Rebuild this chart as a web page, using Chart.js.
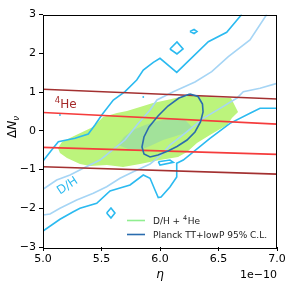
<!DOCTYPE html>
<html><head><meta charset="utf-8">
<script src="https://cdn.jsdelivr.net/npm/chart.js@4/dist/chart.umd.min.js"></script>
<style>html,body{margin:0;padding:0;background:#fff}canvas{display:block}</style>
</head><body><canvas id="c" width="291" height="291"></canvas>
<script>
// eta values are in units of 1e-10
const xTickValues = [5.0, 5.5, 6.0, 6.5, 7.0];
const yTickValues = [-3, -2, -1, 0, 1, 2, 3];

// 4He constraint lines (95% outer, 68% inner)
const heEta  = [5.0, 7.0];
const he95Up = [1.07, 0.82];
const he68Up = [0.47, 0.17];
const he68Lo = [-0.43, -0.61];
const he95Lo = [-0.93, -1.12];

// Planck TT+lowP 95% C.L. contour
const planckEta = [6.256,6.325,6.363,6.368,6.346,6.299,6.231,6.145,6.068,5.983,5.915,5.863,5.846,5.863,5.906,5.983,6.068,6.162,6.256];
const planckDN  = [0.948,0.884,0.690,0.484,0.226,-0.032,-0.239,-0.406,-0.523,-0.626,-0.677,-0.600,-0.419,-0.161,0.097,0.381,0.639,0.845,0.948];

// D/H + 4He combined regions
const comb95Eta = [5.128,5.162,5.265,5.427,5.513,5.632,5.718,5.829,5.940,6.060,6.171,6.299,6.427,6.607,6.667,6.615,6.573,6.427,6.316,6.231,6.154,6.000,5.829,5.684,5.547,5.402,5.316,5.205,5.145];
const comb95DN  = [-0.445,-0.290,-0.135,0.097,0.355,0.458,0.510,0.613,0.716,0.794,0.871,0.923,0.871,0.845,0.484,0.329,0.148,-0.110,-0.316,-0.548,-0.677,-0.755,-0.858,-0.935,-0.884,-0.910,-0.858,-0.703,-0.574];
const comb68Eta = [5.641,5.692,5.769,5.872,5.983,6.103,6.214,6.274,6.214,6.137,6.026,5.915,5.829,5.726];
const comb68DN  = [-0.368,-0.161,0.019,0.148,0.252,0.329,0.277,0.097,-0.058,-0.135,-0.239,-0.394,-0.497,-0.471];

// D/H contours: 95% (bright) and 68% (pale)
const dh95UpEta = [5.000,5.074,5.131,5.274,5.387,5.444,5.502,5.601,5.701,5.801,5.857,5.943,6.000,6.143,6.413,6.570,6.698];
const dh95UpDN  = [-0.781,-0.497,-0.283,-0.195,-0.084,0.148,0.406,0.794,1.008,1.310,1.568,1.766,1.870,1.508,2.298,2.541,3.0];
const dh95LoEta = [5.000,5.145,5.259,5.316,5.459,5.573,5.658,5.744,5.857,5.915,5.957,5.985,6.009,6.085,6.143,6.143,6.199,6.427,6.598,6.769,6.855,7.000];
const dh95LoDN  = [-2.587,-2.285,-2.089,-2.001,-1.872,-1.555,-1.477,-1.400,-1.142,-1.227,-1.529,-1.723,-1.710,-1.452,-1.194,-0.840,-0.755,-0.195,0.192,0.450,0.579,0.579];
const dh68UpEta = [5.000,5.117,5.231,5.344,5.487,5.630,5.701,5.803,5.915,5.974,6.114,6.299,6.442,6.584,6.769,6.912];
const dh68UpDN  = [-1.511,-1.271,-1.142,-0.969,-0.755,-0.412,-0.239,0.148,0.535,0.794,1.008,1.258,1.524,1.911,2.342,3.0];
const dh68LoEta = [5.000,5.060,5.145,5.288,5.430,5.544,5.658,5.772,5.915,6.000,6.085,6.228,6.370,6.513,6.658,6.712,6.855,7.000];
const dh68LoDN  = [-2.174,-2.148,-2.001,-1.787,-1.614,-1.444,-1.227,-1.057,-0.858,-0.652,-0.368,-0.032,0.321,0.579,0.845,1.008,1.095,1.224];

// small closed D/H islands
const islandAEta = [6.085,6.145,6.197,6.145,6.085];
const islandADN  = [2.110,2.290,2.110,1.981,2.110];
const islandBEta = [6.256,6.291,6.316,6.291,6.256];
const islandBDN  = [2.561,2.613,2.561,2.510,2.561];
const islandCEta = [5.544,5.581,5.615,5.581,5.544];
const islandCDN  = [-2.123,-1.994,-2.123,-2.252,-2.123];
const islandDEta = [5.986,6.085,6.114,6.000,5.986];
const islandDDN  = [-0.798,-0.755,-0.815,-0.884,-0.798];
const dotsEta = [5.145, 5.857];
const dotsDN  = [0.406, 0.871];

const pts = (xs, ys) => xs.map((x, i) => ({x: x, y: ys[i]}));

const C_CYAN = '#2bbaf0', C_PALE = '#a6d5f5', C_DRED = '#a33030', C_RED = '#f53c3c';
const C_PLANCK = '#2a6cae', C_G95 = '#bcf47c', C_G68 = '#a2e29a';

function line(data, color, w, extra) {
  return Object.assign({data: data, showLine: true, borderColor: color, backgroundColor: color,
    borderWidth: w, pointRadius: 0, tension: 0, fill: false}, extra || {});
}

const datasets = [
  line(pts(planckEta, planckDN), C_PLANCK, 1.6),
  line(pts(heEta, he95Up), C_DRED, 1.6),
  line(pts(heEta, he68Up), C_RED, 1.6),
  line(pts(heEta, he68Lo), C_RED, 1.6),
  line(pts(heEta, he95Lo), C_DRED, 1.6),
  line(pts(dh95UpEta, dh95UpDN), C_CYAN, 1.6),
  line(pts(dh95LoEta, dh95LoDN), C_CYAN, 1.6),
  line(pts(islandAEta, islandADN), C_CYAN, 1.6),
  line(pts(islandBEta, islandBDN), C_CYAN, 1.6),
  line(pts(islandCEta, islandCDN), C_CYAN, 1.6),
  line(pts(islandDEta, islandDDN), C_CYAN, 1.6),
  {data: pts(dotsEta, dotsDN), showLine: false, pointRadius: 0.9, pointBorderWidth: 0, backgroundColor: C_CYAN, borderColor: C_CYAN},
  line(pts(dh68UpEta, dh68UpDN), C_PALE, 1.6),
  line(pts(dh68LoEta, dh68LoDN), C_PALE, 1.6),
  line(pts(comb68Eta, comb68DN), C_G68, 0, {fill: 'shape', backgroundColor: C_G68}),
  line(pts(comb95Eta, comb95DN), C_G95, 0, {fill: 'shape', backgroundColor: C_G95})
];

const FONT = '"DejaVu Sans", sans-serif';

const decor = {
  id: 'decor',
  afterDatasetsDraw(chart) {
    const ctx = chart.ctx, a = chart.chartArea, xs = chart.scales.x, ys = chart.scales.y;
    ctx.save();
    // frame
    ctx.strokeStyle = '#000'; ctx.lineWidth = 1;
    ctx.strokeRect(Math.round(a.left) + 0.5, Math.round(a.top) + 0.5,
      Math.round(a.right - a.left) - 1, Math.round(a.bottom - a.top));
    // 4He label
    let px = xs.getPixelForValue(5.1), py = ys.getPixelForValue(0.6);
    ctx.fillStyle = '#a52a2a'; ctx.textBaseline = 'alphabetic'; ctx.textAlign = 'left';
    ctx.font = '8.5px ' + FONT; ctx.fillText('4', px, py - 5);
    ctx.font = '12px ' + FONT; ctx.fillText('He', px + 5.5, py);
    // D/H label
    px = xs.getPixelForValue(5.21); py = ys.getPixelForValue(-1.43);
    ctx.save(); ctx.translate(px, py); ctx.rotate(-33 * Math.PI / 180);
    ctx.fillStyle = C_CYAN; ctx.font = '12px ' + FONT; ctx.textAlign = 'center'; ctx.textBaseline = 'middle';
    ctx.fillText('D/H', 0, 0); ctx.restore();
    // legend
    ctx.lineWidth = 1.6;
    ctx.strokeStyle = '#90ee90'; ctx.beginPath(); ctx.moveTo(127, 220.5); ctx.lineTo(145, 220.5); ctx.stroke();
    ctx.strokeStyle = C_PLANCK; ctx.beginPath(); ctx.moveTo(127, 234.5); ctx.lineTo(145, 234.5); ctx.stroke();
    ctx.fillStyle = '#222'; ctx.textAlign = 'left'; ctx.textBaseline = 'alphabetic';
    ctx.font = '9px ' + FONT;
    ctx.fillText('D/H + ', 153, 224);
    let w = ctx.measureText('D/H + ').width;
    ctx.font = '6.5px ' + FONT; ctx.fillText('4', 153 + w, 220);
    let w2 = ctx.measureText('4').width;
    ctx.font = '9px ' + FONT; ctx.fillText('He', 153 + w + w2 + 0.5, 224);
    ctx.fillText('Planck TT+lowP 95% C.L.', 153, 238);
    // axis labels
    ctx.fillStyle = '#000';
    ctx.font = 'italic 12px ' + FONT; ctx.textAlign = 'center';
    ctx.fillText('\u03b7', (a.left + a.right) / 2, 278);
    ctx.font = '11px ' + FONT; ctx.textAlign = 'right';
    ctx.fillText('1e\u221210', a.right, 278);
    // y label
    ctx.save(); ctx.translate(16, 127); ctx.rotate(-Math.PI / 2);
    ctx.textAlign = 'left'; ctx.textBaseline = 'alphabetic';
    ctx.font = '12px ' + FONT; const wd = ctx.measureText('\u0394').width;
    ctx.font = 'italic 12px ' + FONT; const wn = ctx.measureText('N').width;
    ctx.font = 'italic 8.5px ' + FONT; const wv = ctx.measureText('\u03bd').width;
    const tot = wd + wn + wv; let x0 = -tot / 2;
    ctx.font = '12px ' + FONT; ctx.fillText('\u0394', x0, 0);
    ctx.font = 'italic 12px ' + FONT; ctx.fillText('N', x0 + wd, 0);
    ctx.font = 'italic 8.5px ' + FONT; ctx.fillText('\u03bd', x0 + wd + wn, 2.5);
    ctx.restore();
    ctx.restore();
  }
};

new Chart(document.getElementById('c'), {
  type: 'scatter',
  data: {datasets: datasets},
  options: {
    responsive: false, animation: false, devicePixelRatio: 1,
    layout: {padding: {left: 0, right: 14, top: 14.5, bottom: 0}},
    plugins: {legend: {display: false}, tooltip: {enabled: false}},
    scales: {
      x: {
        type: 'linear', min: 5, max: 7,
        afterBuildTicks: s => { s.ticks = xTickValues.map(v => ({value: v})); },
        afterFit: s => { s.height = 44; },
        border: {display: false},
        grid: {drawOnChartArea: false, drawTicks: true, tickLength: 4, color: '#000', lineWidth: 1},
        ticks: {color: '#000', font: {family: 'DejaVu Sans', size: 11}, padding: 2, maxRotation: 0,
          callback: v => Number(v).toFixed(1)}
      },
      y: {
        type: 'linear', min: -3, max: 3,
        afterBuildTicks: s => { s.ticks = yTickValues.map(v => ({value: v})); },
        afterFit: s => { s.width = 43; },
        border: {display: false},
        grid: {drawOnChartArea: false, drawTicks: true, tickLength: 4, color: '#000', lineWidth: 1},
        ticks: {color: '#000', font: {family: 'DejaVu Sans', size: 11}, padding: 3,
          callback: v => (v < 0 ? '\u2212' : '') + Math.abs(v)}
      }
    }
  },
  plugins: [decor]
});
</script></body></html>
